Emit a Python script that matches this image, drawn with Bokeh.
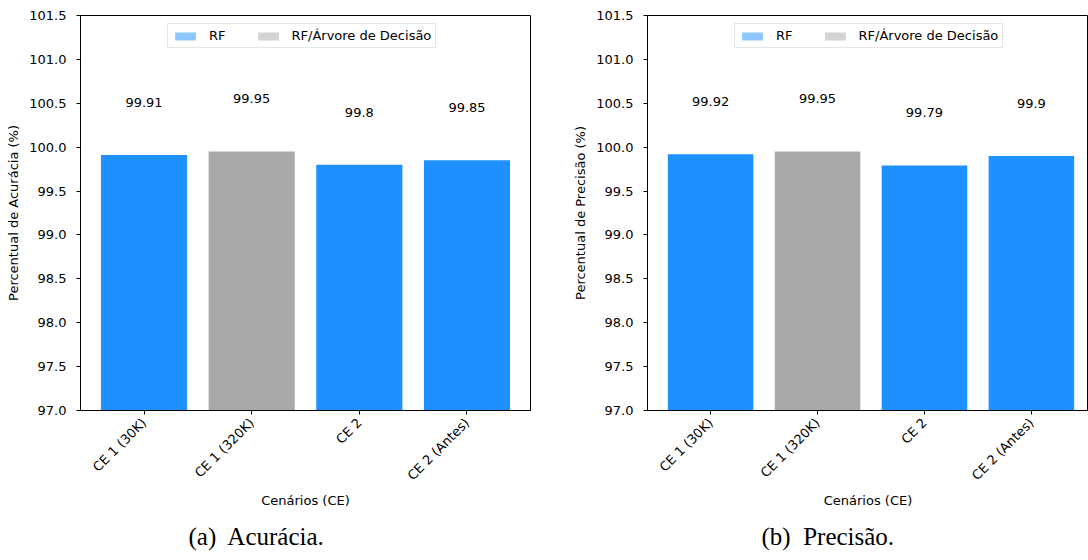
import math
from bokeh.plotting import figure
from bokeh.models import (Range1d, FixedTicker, SingleIntervalTicker, PrintfTickFormatter,
                          Legend, LegendItem, Title, ColumnDataSource)
from bokeh.layouts import row
from bokeh.core.properties import value
from bokeh.embed import file_html
from bokeh.resources import INLINE

# ---- data ----
scenarios = ["CE 1 (30K)", "CE 1 (320K)", "CE 2", "CE 2 (Antes)"]
models = ["RF", "RF/Árvore de Decisão", "RF", "RF"]
accuracy = [99.91, 99.95, 99.80, 99.85]
precision = [99.92, 99.95, 99.79, 99.90]
legend_labels = ["RF", "RF/Árvore de Decisão"]
y_ticks_range = (97.0, 101.5)

MODEL_COLORS = {"RF": "#1E90FF", "RF/Árvore de Decisão": "#A9A9A9"}
FONT = "DejaVu Sans"
FS = "13px"


def make_panel(values, ylabel, caption, x_end, mb_left, mb_right, width, caption_offset):
    p = figure(width=width, height=560, output_backend="svg", toolbar_location=None,
               x_range=Range1d(-0.59, x_end), y_range=Range1d(*y_ticks_range),
               min_border_left=mb_left, min_border_right=mb_right,
               min_border_top=15, min_border_bottom=150)
    p.outline_line_color = "black"
    p.outline_line_width = 1
    p.xgrid.visible = False
    p.ygrid.visible = False
    p.background_fill_color = "white"
    p.border_fill_color = "white"

    xs = list(range(len(scenarios)))
    src = ColumnDataSource(dict(
        x=xs, top=values, color=[MODEL_COLORS[m] for m in models],
        ly=[v + 0.6 for v in values], lab=["{:g}".format(v) for v in values]))
    p.vbar(x="x", top="top", bottom=0, width=0.8, fill_color="color", line_color=None, source=src)
    p.text(x="x", y="ly", text="lab", source=src, text_align="center", text_baseline="middle",
           text_font=value(FONT), text_font_size=FS, text_color="black")

    # legend handles (lighter patches); zero-height bars outside the visible range
    items = []
    for m in legend_labels:
        r = p.vbar(x=[0], top=[0], bottom=0, width=0.8, fill_color=MODEL_COLORS[m],
                   fill_alpha=0.5, line_color=None)
        items.append(LegendItem(label=m, renderers=[r]))
    leg = Legend(items=items, orientation="horizontal", location=(87, 362),
                 glyph_width=26, glyph_height=10, label_standoff=11, spacing=29,
                 label_width=0, label_height=12, padding=4, margin=0,
                 label_text_font=FONT, label_text_font_size=FS, label_text_color="black",
                 border_line_color="#cccccc", border_line_width=1,
                 background_fill_color="white", background_fill_alpha=0.8)
    p.add_layout(leg, "center")

    # axes
    p.xaxis.ticker = FixedTicker(ticks=xs)
    p.xaxis.major_label_overrides = {i: s for i, s in zip(xs, scenarios)}
    p.xaxis.major_label_orientation = math.pi / 4
    p.yaxis.ticker = SingleIntervalTicker(interval=0.5, num_minor_ticks=0)
    p.yaxis.formatter = PrintfTickFormatter(format="%.1f")
    for ax in (p.xaxis, p.yaxis):
        ax.axis_line_color = "black"
        ax.major_tick_line_color = "black"
        ax.minor_tick_line_color = None
        ax.major_tick_out = 4
        ax.major_tick_in = 0
        ax.major_label_text_font = FONT
        ax.major_label_text_font_size = FS
        ax.major_label_text_color = "black"
        ax.axis_label_text_font = FONT
        ax.axis_label_text_font_size = FS
        ax.axis_label_text_font_style = "normal"
        ax.axis_label_text_color = "black"
    p.xaxis.axis_label = "Cenários (CE)"
    p.yaxis.axis_label = ylabel
    p.yaxis.major_label_standoff = 10
    p.yaxis.axis_label_standoff = 5
    p.xaxis.major_label_standoff = 6
    p.xaxis.axis_label_standoff = 2

    p.add_layout(Title(text=caption, align="left", offset=caption_offset, standoff=18,
                       text_line_height=0.75,
                       text_font="Liberation Serif", text_font_size="25px",
                       text_font_style="normal", text_color="black"), "below")
    return p


p1 = make_panel(accuracy, "Percentual de Acurácia (%)", "(a)\u00a0 Acurácia.",
                3.59, 80, 40, 570, 108)
p2 = make_panel(precision, "Percentual de Precisão (%)", "(b)\u00a0 Precisão.",
                -0.59 + 444 / 107.66, 74, 0, 518, 114)

layout = row(p1, p2)
open("out.html", "w").write(file_html(layout, INLINE))
